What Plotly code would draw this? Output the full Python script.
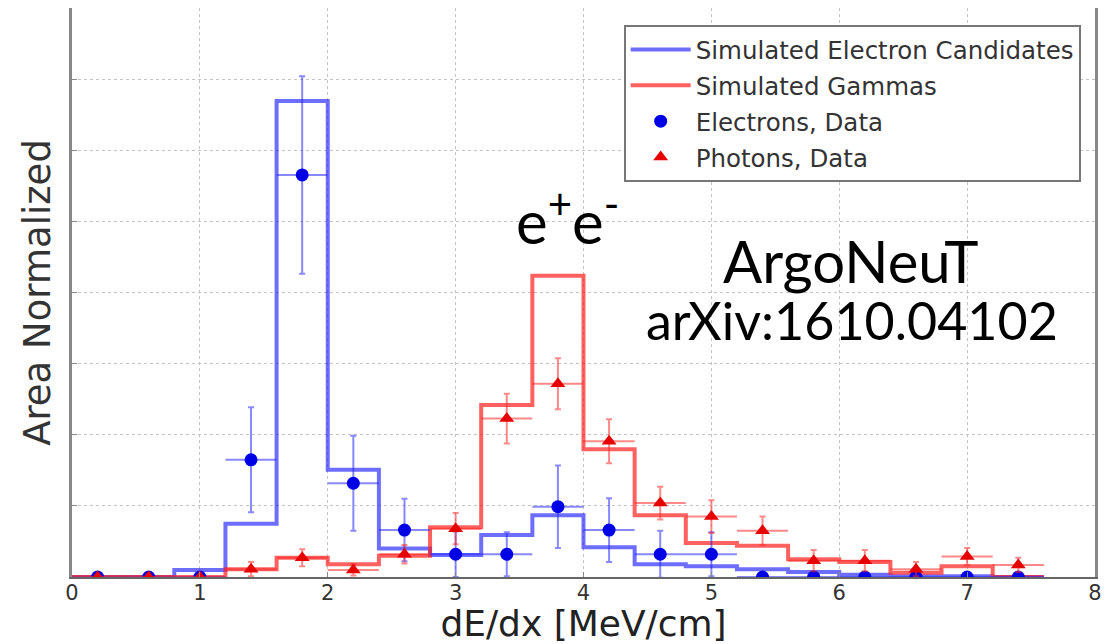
import plotly.graph_objects as go

# Histogram bin edges (dE/dx, MeV/cm) and step heights (area normalized, arbitrary units)
bin_edges = [0.0, 0.4, 0.8, 1.2, 1.6, 2.0, 2.4, 2.8, 3.2, 3.6, 4.0, 4.4, 4.8, 5.2, 5.6, 6.0, 6.4, 6.8, 7.2, 7.6]
sim_electron = [0.0, 0.0, 0.10, 0.75, 6.70, 1.51, 0.40, 0.31, 0.59, 0.87, 0.42, 0.18, 0.15, 0.11, 0.07, 0.03, 0.01, 0.01, 0.0]
sim_gamma = [0.0, 0.0, 0.0, 0.11, 0.27, 0.18, 0.30, 0.70, 2.42, 4.24, 1.80, 0.87, 0.48, 0.44, 0.25, 0.21, 0.06, 0.15, 0.0]

# Data points
data_x = [0.2, 0.6, 1.0, 1.4, 1.8, 2.2, 2.6, 3.0, 3.4, 3.8, 4.2, 4.6, 5.0, 5.4, 5.8, 6.2, 6.6, 7.0, 7.4]
electron_data = [0.0, 0.0, 0.0, 1.65, 5.66, 1.32, 0.66, 0.32, 0.32, 0.99, 0.66, 0.32, 0.32, 0.0, 0.0, 0.0, 0.0, 0.0, 0.0]
electron_err = [0.0, 0.0, 0.0, 0.74, 1.39, 0.67, 0.44, 0.32, 0.31, 0.58, 0.45, 0.33, 0.31, 0.0, 0.0, 0.0, 0.0, 0.0, 0.0]
photon_data = [0.0, 0.0, 0.0, 0.11, 0.27, 0.10, 0.32, 0.68, 2.23, 2.72, 1.91, 1.04, 0.85, 0.65, 0.23, 0.23, 0.11, 0.29, 0.17]
photon_err = [0.0, 0.0, 0.0, 0.10, 0.12, 0.08, 0.13, 0.22, 0.35, 0.36, 0.31, 0.23, 0.23, 0.20, 0.15, 0.15, 0.10, 0.12, 0.10]
x_halfwidth = [0.2] * len(data_x)

x_ticks = [0, 1, 2, 3, 4, 5, 6, 7, 8]

def step_xy(edges, vals):
    xs = list(edges) + [edges[-1] + (edges[-1] - edges[-2])]
    ys = list(vals) + [vals[-1]]
    return xs, ys

fig = go.Figure()

bx, by = step_xy(bin_edges, sim_electron)
fig.add_trace(go.Scatter(x=bx, y=by, mode="lines", line_shape="hv",
                         line=dict(color="rgba(30,30,255,0.65)", width=4),
                         name="Simulated Electron Candidates", legendgroup="a"))
rx, ry = step_xy(bin_edges, sim_gamma)
fig.add_trace(go.Scatter(x=rx, y=ry, mode="lines", line_shape="hv",
                         line=dict(color="rgba(255,30,30,0.7)", width=4),
                         name="Simulated Gammas", legendgroup="b"))

fig.add_trace(go.Scatter(x=data_x, y=electron_data, mode="markers",
                         marker=dict(symbol="circle", size=13, color="#0000e6"),
                         error_y=dict(type="data", array=electron_err, color="rgba(40,40,255,0.55)", thickness=2, width=3),
                         error_x=dict(type="data", array=x_halfwidth, color="rgba(40,40,255,0.55)", thickness=2, width=0),
                         name="Electrons, Data", legendgroup="c"))
fig.add_trace(go.Scatter(x=data_x, y=photon_data, mode="markers",
                         marker=dict(symbol="triangle-up", size=13, color="#e60000"),
                         error_y=dict(type="data", array=photon_err, color="rgba(255,40,40,0.55)", thickness=2, width=3),
                         error_x=dict(type="data", array=x_halfwidth, color="rgba(255,40,40,0.55)", thickness=2, width=0),
                         name="Photons, Data", legendgroup="d"))

fig.add_annotation(x=0.484, y=0.632, xref="paper", yref="paper", xanchor="center", yanchor="middle",
                   text="e<sup>+</sup>e<sup>-</sup>", showarrow=False,
                   font=dict(family="Lato", size=60, color="black"))
fig.add_annotation(x=0.7615, y=0.556, xref="paper", yref="paper", xanchor="center", yanchor="middle",
                   text="ArgoNeuT", showarrow=False,
                   font=dict(family="Lato", size=58, color="black"))
fig.add_annotation(x=0.762, y=0.452, xref="paper", yref="paper", xanchor="center", yanchor="middle",
                   text="arXiv:1610.04102", showarrow=False,
                   font=dict(family="Lato", size=52, color="black"))

fig.update_layout(
    width=1107, height=636,
    margin=dict(l=64, r=20, t=0, b=67),
    paper_bgcolor="white", plot_bgcolor="white",
    font=dict(family="DejaVu Sans", color="#333333"),
    showlegend=True,
    legend=dict(x=0.986, y=0.97, xanchor="right", yanchor="top",
                bgcolor="white", bordercolor="#777777", borderwidth=2,
                itemwidth=60,
                font=dict(size=24.5, color="#333333"), tracegroupgap=1),
)
fig.update_xaxes(range=[0, 8], tickvals=x_ticks, ticktext=[str(t) for t in x_ticks],
                 tickfont=dict(size=21, color="#333333"), automargin=False,
                 ticklabelstandoff=-4,
                 showgrid=True, gridcolor="#c4c4c4", griddash="dot", gridwidth=1,
                 showline=True, linecolor="#666666", linewidth=2, mirror=False,
                 ticks="inside", ticklen=5, tickcolor="#888888", zeroline=False,
                 title=dict(text="dE/dx [MeV/cm]", font=dict(size=36, color="#222222"), standoff=5))
fig.update_yaxes(range=[0, 8.01], dtick=1, showticklabels=False, automargin=False,
                 showgrid=True, gridcolor="#c4c4c4", griddash="dot", gridwidth=1,
                 showline=True, linecolor="#888888", linewidth=3, mirror=True,
                 ticks="inside", ticklen=5, tickcolor="#888888", zeroline=False,
                 title=dict(text="Area Normalized", font=dict(size=37, color="#333333"), standoff=8))

fig.write_html("out.html")
